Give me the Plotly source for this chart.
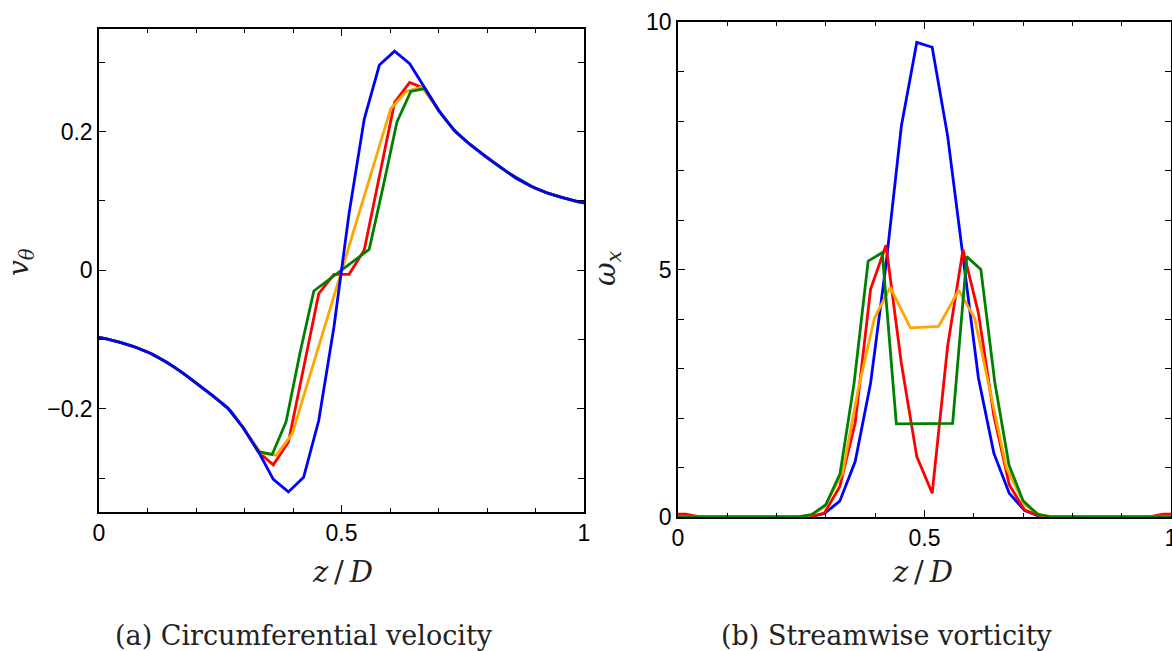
import plotly.graph_objects as go

W, H = 1172, 651

# ---------------- data ----------------
# common 32-cell grid (cell centres) with the two boundary points
z32 = [0.0, 0.0156, 0.0469, 0.0781, 0.1094, 0.1406, 0.1719, 0.2031, 0.2344, 0.2656,
       0.2969, 0.3281, 0.3594, 0.3906, 0.4219, 0.4531, 0.4844, 0.5156, 0.5469, 0.5781,
       0.6094, 0.6406, 0.6719, 0.7031, 0.7344, 0.7656, 0.7969, 0.8281, 0.8594, 0.8906,
       0.9219, 0.9531, 0.9844, 1.0]
# green series grid (35 cells)
z35 = [0.0, 0.0143, 0.0429, 0.0714, 0.1, 0.1286, 0.1571, 0.1857, 0.2143, 0.2429,
       0.2714, 0.3, 0.3286, 0.3571, 0.3857, 0.4143, 0.4429, 0.4714, 0.5, 0.5286,
       0.5571, 0.5857, 0.6143, 0.6429, 0.6714, 0.7, 0.7286, 0.7571, 0.7857, 0.8143,
       0.8429, 0.8714, 0.9, 0.9286, 0.9571, 0.9857, 1.0]
# orange series grid
z_or = [0.0, 0.0156, 0.0469, 0.0781, 0.1094, 0.1406, 0.1719, 0.2031, 0.2344, 0.2656,
        0.2969, 0.334, 0.366, 0.3985, 0.4305, 0.4715, 0.5285, 0.5695, 0.6015, 0.634,
        0.666, 0.7031, 0.7344, 0.7656, 0.7969, 0.8281, 0.8594, 0.8906, 0.9219, 0.9531,
        0.9844, 1.0]

# (a) circumferential velocity
vt_blue = [-0.097, -0.099, -0.105, -0.112, -0.121, -0.133, -0.148, -0.164, -0.181, -0.199,
           -0.227, -0.261, -0.302, -0.320, -0.299, -0.217, -0.082, 0.082, 0.218, 0.296,
           0.316, 0.298, 0.262, 0.228, 0.200, 0.181, 0.164, 0.148, 0.133, 0.121,
           0.112, 0.105, 0.099, 0.097]
vt_red = [-0.097, -0.099, -0.105, -0.112, -0.121, -0.133, -0.148, -0.164, -0.181, -0.199,
          -0.227, -0.262, -0.281, -0.248, -0.140, -0.034, -0.006, -0.006, 0.029, 0.135,
          0.242, 0.271, 0.262, 0.228, 0.200, 0.181, 0.164, 0.148, 0.133, 0.121,
          0.112, 0.105, 0.099, 0.097]
vt_orange = [-0.097, -0.099, -0.105, -0.112, -0.121, -0.133, -0.148, -0.164, -0.181, -0.199,
             -0.227, -0.264, -0.267, -0.236, -0.162, -0.067, 0.065, 0.160, 0.233, 0.258,
             0.264, 0.228, 0.200, 0.181, 0.164, 0.148, 0.133, 0.121, 0.112, 0.105,
             0.099, 0.097]
vt_green = [-0.097, -0.099, -0.104, -0.110, -0.118, -0.129, -0.141, -0.155, -0.170, -0.186,
            -0.203, -0.230, -0.262, -0.266, -0.219, -0.120, -0.030, -0.015, 0.000, 0.015,
            0.030, 0.120, 0.214, 0.258, 0.262, 0.230, 0.205, 0.186, 0.170, 0.155,
            0.141, 0.129, 0.118, 0.110, 0.104, 0.099, 0.097]

# (b) streamwise vorticity
wx_blue = [0, 0, 0, 0, 0, 0, 0, 0, 0, 0,
           0.07, 0.32, 1.12, 2.70, 5.10, 7.90, 9.59, 9.49, 7.70, 5.30,
           2.81, 1.29, 0.48, 0.13, 0.01, 0, 0, 0, 0, 0,
           0, 0, 0, 0]
wx_red = [0.06, 0.06, 0, 0, 0, 0, 0, 0, 0, 0,
          0.08, 0.61, 1.90, 4.60, 5.49, 3.10, 1.22, 0.48, 3.45, 5.40,
          4.12, 2.05, 0.65, 0.14, 0.02, 0, 0, 0, 0, 0,
          0, 0, 0.06, 0.06]
wx_orange = [0, 0, 0, 0, 0, 0, 0, 0, 0, 0.02,
             0.20, 0.90, 2.60, 4.02, 4.64, 3.82, 3.85, 4.58, 4.02, 2.50,
             1.00, 0.25, 0.04, 0, 0, 0, 0, 0, 0, 0,
             0, 0]
wx_green = [0, 0, 0, 0, 0, 0, 0, 0, 0, 0,
            0.05, 0.25, 0.87, 2.70, 5.17, 5.34, 1.88, 1.88, 1.88, 1.89,
            1.89, 5.26, 5.00, 2.70, 1.05, 0.33, 0.06, 0, 0, 0,
            0, 0, 0, 0, 0, 0, 0]

C_BLUE, C_RED, C_ORANGE, C_GREEN = "#0000ff", "#ff0000", "#ffa500", "#008000"
LW = 2.8

fig = go.Figure()

# left panel (blue drawn last, on top)
for z, v, c in [(z32, vt_red, C_RED), (z_or, vt_orange, C_ORANGE),
                (z35, vt_green, C_GREEN), (z32, vt_blue, C_BLUE)]:
    fig.add_trace(go.Scatter(x=z, y=v, mode="lines", line=dict(color=c, width=LW),
                             xaxis="x", yaxis="y", showlegend=False, hoverinfo="skip"))
# right panel (green drawn last, on top)
for z, v, c in [(z32, wx_blue, C_BLUE), (z32, wx_red, C_RED),
                (z_or, wx_orange, C_ORANGE), (z35, wx_green, C_GREEN)]:
    fig.add_trace(go.Scatter(x=z, y=v, mode="lines", line=dict(color=c, width=LW),
                             xaxis="x2", yaxis="y2", showlegend=False, hoverinfo="skip"))

TICKFONT = dict(family="Liberation Sans, Arial, sans-serif", size=23, color="black")
common = dict(showline=True, linecolor="black", linewidth=1.5, mirror="ticks",
              ticks="inside", ticklen=7, tickwidth=1.3, tickcolor="black",
              showgrid=False, zeroline=False, tickfont=TICKFONT,
              ticklabeloverflow="allow", automargin=False)


def px_x(a, b):
    return [a / W, b / W]


def px_y(top, bottom):
    return [1 - bottom / H, 1 - top / H]


fig.update_layout(
    template="none",
    width=W, height=H, margin=dict(l=0, r=0, t=0, b=0, pad=0, autoexpand=False),
    paper_bgcolor="white", plot_bgcolor="white",
    xaxis=dict(domain=px_x(99, 584), range=[0, 1], anchor="y",
               tickvals=[0, 0.5, 1], ticktext=["0", "0.5", "1"],
               minor=dict(ticks="inside", dtick=0.1, tick0=0, ticklen=4,
                          tickwidth=1.3, tickcolor="black", showgrid=False),
               **common),
    yaxis=dict(domain=px_y(29, 512), range=[-0.349, 0.348], anchor="x",
               tickvals=[-0.2, 0, 0.2], ticktext=["\u22120.2", "0", "0.2"],
               minor=dict(ticks="inside", dtick=0.1, tick0=0, ticklen=6,
                          tickwidth=1.3, tickcolor="black", showgrid=False),
               **common),
    xaxis2=dict(domain=px_x(678, 1171), range=[0, 1], anchor="y2",
                tickvals=[0, 0.5, 1], ticktext=["0", "0.5", "1"],
                minor=dict(ticks="inside", dtick=0.1, tick0=0, ticklen=4,
                           tickwidth=1.3, tickcolor="black", showgrid=False),
                **common),
    yaxis2=dict(domain=px_y(22, 517), range=[0, 10], anchor="x2",
                tickvals=[0, 5, 10], ticktext=["0", "5", "10"],
                minor=dict(ticks="inside", dtick=1, tick0=0, ticklen=6,
                           tickwidth=1.3, tickcolor="black", showgrid=False),
                **common),
)

SERIF = "DejaVu Serif, Liberation Serif, serif"


def ann(text, x, y, size, angle=0):
    fig.add_annotation(text=text, x=x / W, y=1 - y / H, xref="paper", yref="paper",
                       showarrow=False, xanchor="center", yanchor="middle",
                       textangle=angle, font=dict(family=SERIF, size=size, color="#222"))


ann("<i>v</i><sub><i>θ</i></sub>", 20, 262, 28, -90)
ann("<i>z</i>\u2009/\u2009<i>D</i>", 342, 572, 29)
ann("(a) Circumferential velocity", 304, 635, 27)
ann("<i>ω</i><sub><i>x</i></sub>", 607, 268, 29, -90)
ann("<i>z</i>\u2009/\u2009<i>D</i>", 922, 572, 29)
ann("(b) Streamwise vorticity", 887, 635, 27)

fig.write_html("out.html")
